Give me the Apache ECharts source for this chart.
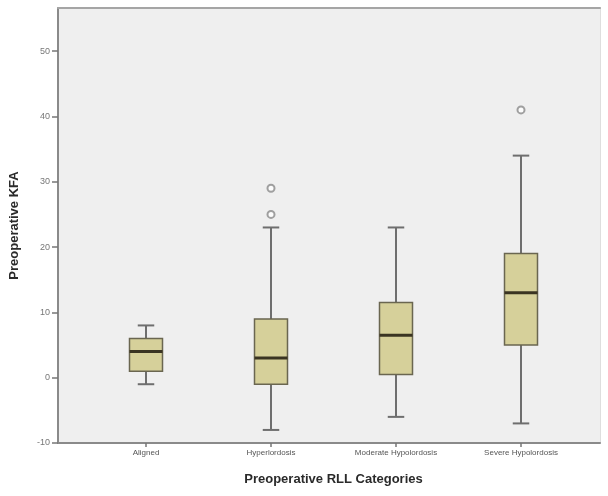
<!DOCTYPE html>
<html>
<head>
<meta charset="utf-8">
<script src="https://cdn.jsdelivr.net/npm/echarts@6/dist/echarts.min.js"></script>
<style>html,body{margin:0;padding:0;background:#fff}#c{width:608px;height:496px}</style>
</head>
<body>
<div id="c"></div>
<script>
var categories = ['Aligned', 'Hyperlordosis', 'Moderate Hypolordosis', 'Severe Hypolordosis'];
var lowWhisker = [-1, -8, -6, -7];
var q1 = [1, -1, 0.5, 5];
var median = [4, 3, 6.5, 13];
var q3 = [6, 9, 11.5, 19];
var highWhisker = [8, 23, 23, 34];
var outliers = [[1, 29], [1, 25], [3, 41]];
var yTicks = [-10, 0, 10, 20, 30, 40, 50];

var boxData = categories.map(function (c, i) {
  return [i, lowWhisker[i], q1[i], median[i], q3[i], highWhisker[i]];
});

var chart = echarts.init(document.getElementById('c'));
var Y_MIN = -10, Y_MAX = 56.6;
chart.setOption({
  animation: false,
  grid: [
    { left: 56, right: 8, top: 8, bottom: 53, show: true, backgroundColor: '#efefef', borderWidth: 0 },
    { left: 83.5, width: 500, top: 8, bottom: 53 }
  ],
  xAxis: [
    { type: 'value', gridIndex: 0, min: 0, max: 1, position: 'bottom',
      axisLine: { show: true, onZero: false, lineStyle: { color: '#8a8a8a', width: 2 } },
      axisTick: { show: false }, axisLabel: { show: false }, splitLine: { show: false } },
    { type: 'value', gridIndex: 0, min: 0, max: 1, position: 'top',
      axisLine: { show: true, onZero: false, lineStyle: { color: '#a5a5a5', width: 2 } },
      axisTick: { show: false }, axisLabel: { show: false }, splitLine: { show: false } },
    { type: 'category', gridIndex: 1, data: categories, boundaryGap: true,
      axisLine: { show: false, onZero: false },
      axisTick: { show: true, alignWithLabel: true, length: 4, lineStyle: { color: '#777', width: 1.5 } },
      axisLabel: { fontSize: 8, color: '#555', margin: 6, fontFamily: 'Liberation Sans' },
      name: 'Preoperative RLL Categories', nameLocation: 'middle', nameGap: 30,
      nameTextStyle: { fontSize: 13, fontWeight: 'bold', color: '#2a2a2a', fontFamily: 'Liberation Sans' } }
  ],
  yAxis: [
    { type: 'value', gridIndex: 0, min: Y_MIN, max: Y_MAX, position: 'left',
      axisLine: { show: true, onZero: false, lineStyle: { color: '#8a8a8a', width: 2 } },
      axisTick: { show: true, length: 6, customValues: yTicks, lineStyle: { color: '#777', width: 1.5 } },
      axisLabel: { fontSize: 9, color: '#777', margin: 8, customValues: yTicks, fontFamily: 'Liberation Sans' },
      splitLine: { show: false },
      name: 'Preoperative KFA', nameLocation: 'middle', nameGap: 37,
      nameTextStyle: { fontSize: 13, fontWeight: 'bold', color: '#2a2a2a', fontFamily: 'Liberation Sans' } },
    { type: 'value', gridIndex: 0, min: Y_MIN, max: Y_MAX, position: 'right',
      axisLine: { show: true, onZero: false, lineStyle: { color: '#dedede', width: 1 } },
      axisTick: { show: false }, axisLabel: { show: false }, splitLine: { show: false } },
    { type: 'value', gridIndex: 1, min: Y_MIN, max: Y_MAX, show: false }
  ],
  series: [
    {
      type: 'custom', xAxisIndex: 2, yAxisIndex: 2,
      data: boxData,
      renderItem: function (params, api) {
        var i = api.value(0);
        var lo = api.coord([i, api.value(1)]);
        var b1 = api.coord([i, api.value(2)]);
        var md = api.coord([i, api.value(3)]);
        var b3 = api.coord([i, api.value(4)]);
        var hi = api.coord([i, api.value(5)]);
        var bw = api.size([1, 0])[0] * 0.264;
        var cw = bw / 2;
        var x = lo[0];
        var ws = { stroke: '#6e6e6e', lineWidth: 2 };
        return {
          type: 'group',
          children: [
            { type: 'line', shape: { x1: x, y1: hi[1], x2: x, y2: b3[1] }, style: ws },
            { type: 'line', shape: { x1: x, y1: b1[1], x2: x, y2: lo[1] }, style: ws },
            { type: 'line', shape: { x1: x - cw / 2, y1: hi[1], x2: x + cw / 2, y2: hi[1] }, style: ws },
            { type: 'line', shape: { x1: x - cw / 2, y1: lo[1], x2: x + cw / 2, y2: lo[1] }, style: ws },
            { type: 'rect', shape: { x: x - bw / 2, y: b3[1], width: bw, height: b1[1] - b3[1] },
              style: { fill: '#d6d09a', stroke: '#6a6650', lineWidth: 1.5 } },
            { type: 'line', shape: { x1: x - bw / 2, y1: md[1], x2: x + bw / 2, y2: md[1] },
              style: { stroke: '#3a3422', lineWidth: 3 } }
          ]
        };
      }
    },
    {
      type: 'scatter', xAxisIndex: 2, yAxisIndex: 2,
      data: outliers,
      symbol: 'emptyCircle', symbolSize: 7,
      itemStyle: { color: '#8a8a8a', borderColor: '#8a8a8a', borderWidth: 1.5 }
    }
  ]
});
</script>
</body>
</html>
